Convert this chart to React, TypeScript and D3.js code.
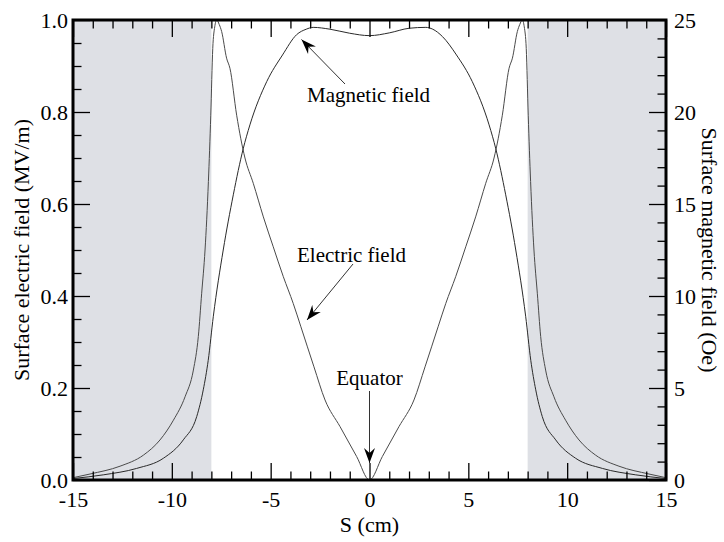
import React, { useEffect, useRef } from 'react'
import * as d3 from 'd3'

const WIDTH = 724
const HEIGHT = 542
const M = { left: 73, top: 20, right: 58, bottom: 62 }

// S (cm) sample points and field values
const S_ELECTRIC = [
  -15, -14.14, -12.62, -11.44, -10.6, -9.92, -9.33, -8.91, -8.66, -8.49, -8.32, -8.15, -8.03, -7.93, -7.83, -7.73,
  -7.6, -7.48, -7.23, -7.06, -6.72, -6.3, -5.88, -5.37, -4.87, -4.36, -3.86, -3.47, -2.81, -2.25, -1.49, -0.65, 0,
  0.65, 1.49, 2.25, 2.81, 3.47, 3.86, 4.36, 4.87, 5.37, 5.88, 6.3, 6.72, 7.06, 7.23, 7.48, 7.6,
  7.73, 7.83, 7.93, 8.03, 8.15, 8.32, 8.49, 8.66, 8.91, 9.33, 9.92, 10.6, 11.44, 12.62, 14.14, 15,
]
const ELECTRIC = [
  0.005, 0.013, 0.03, 0.054, 0.087, 0.13, 0.181, 0.239, 0.312, 0.406, 0.5, 0.649, 0.793, 0.938, 0.985, 1.0,
  0.99, 0.975, 0.917, 0.895, 0.793, 0.7, 0.645, 0.572, 0.507, 0.442, 0.384, 0.333, 0.246, 0.174, 0.116, 0.051, 0,
  0.051, 0.116, 0.174, 0.246, 0.333, 0.384, 0.442, 0.507, 0.572, 0.645, 0.7, 0.793, 0.895, 0.917, 0.975, 0.99,
  1.0, 0.985, 0.938, 0.793, 0.649, 0.5, 0.406, 0.312, 0.239, 0.181, 0.13, 0.087, 0.054, 0.03, 0.013, 0.005,
]

const S_MAGNETIC = [
  -15, -13.47, -11.78, -10.43, -9.42, -8.74, -8.41, -8.16, -7.9, -7.4, -6.89, -6.39, -6.05,
  -5.2, -4.4, -3.69, -3.2, -2.85, -2, -1, 0,
  1, 2, 2.85, 3.2, 3.69, 4.4, 5.2, 6.05, 6.39, 6.89, 7.4, 7.9, 8.16, 8.41, 8.74, 9.42, 10.43, 11.78, 13.47, 15,
]
const MAGNETIC = [
  0.08, 0.28, 0.63, 1.18, 2.18, 3.45, 4.9, 6.5, 8.9, 12.5, 15.5, 18.0, 19.3,
  21.65, 23.1, 24.2, 24.5, 24.6, 24.5, 24.28, 24.15,
  24.3, 24.55, 24.6, 24.5, 24.1, 23.1, 21.65, 19.3, 18.0, 15.5, 12.5, 8.9, 6.5, 4.9, 3.45, 2.18, 1.18, 0.63, 0.28, 0.08,
]

const X_TICKS = [-15, -10, -5, 0, 5, 10, 15]
const LEFT_TICKS = [0, 0.2, 0.4, 0.6, 0.8, 1.0]
const RIGHT_TICKS = [0, 5, 10, 15, 20, 25]
const SHADED = [[-15, -8], [8, 15]]

const FONT = '"Liberation Serif", "Times New Roman", Tinos, "Noto Serif", "DejaVu Serif", FreeSerif, Times, serif'

export default function App() {
  const ref = useRef<SVGSVGElement>(null)

  useEffect(() => {
    const svg = d3.select(ref.current)
    svg.selectAll('*').remove()

    const w = WIDTH - M.left - M.right
    const h = HEIGHT - M.top - M.bottom

    const x = d3.scaleLinear().domain([-15, 15]).range([0, w])
    const yL = d3.scaleLinear().domain([0, 1]).range([h, 0])
    const yR = d3.scaleLinear().domain([0, 25]).range([h, 0])

    const defs = svg.append('defs')
    defs.append('marker')
      .attr('id', 'head')
      .attr('viewBox', '-15 -6 15 12')
      .attr('refX', 0)
      .attr('refY', 0)
      .attr('markerWidth', 15)
      .attr('markerHeight', 12)
      .attr('markerUnits', 'userSpaceOnUse')
      .attr('orient', 'auto')
      .append('path')
      .attr('d', 'M0,0 L-15,-5.5 L-10,0 L-15,5.5 Z')
      .attr('fill', '#000')

    const g = svg.append('g')
      .attr('transform', `translate(${M.left},${M.top})`)
      .attr('font-family', FONT)

    g.selectAll('rect.shade')
      .data(SHADED)
      .enter()
      .append('rect')
      .attr('class', 'shade')
      .attr('x', (d) => x(d[0]))
      .attr('y', 0)
      .attr('width', (d) => x(d[1]) - x(d[0]))
      .attr('height', h)
      .attr('fill', '#dee0e5')

    const eLine = d3.line<number>()
      .x((d, i) => x(S_ELECTRIC[i]))
      .y((d) => yL(d))
      .curve(d3.curveMonotoneX)
    const bLine = d3.line<number>()
      .x((d, i) => x(S_MAGNETIC[i]))
      .y((d) => yR(d))
      .curve(d3.curveMonotoneX)

    g.append('path').attr('d', eLine(ELECTRIC))
      .attr('fill', 'none').attr('stroke', '#4a4a4a').attr('stroke-width', 1)
    g.append('path').attr('d', bLine(MAGNETIC))
      .attr('fill', 'none').attr('stroke', '#2a2a2a').attr('stroke-width', 1)

    const styleAxis = (sel) => {
      sel.select('.domain').remove()
      sel.selectAll('line').attr('stroke', '#000').attr('stroke-width', 1.3)
      sel.selectAll('text').attr('fill', '#000')
      sel.attr('font-family', FONT).attr('font-size', 22)
    }

    const minorX = d3.range(-15, 16, 1).filter((v) => v % 5 !== 0)
    const minorL = d3.range(0, 1.0001, 0.05).filter((v) => Math.abs(v * 5 - Math.round(v * 5)) > 1e-6)
    const minorR = d3.range(0, 26, 1).filter((v) => v % 5 !== 0)
    const plain = (d) => String(d)

    g.append('g').attr('transform', `translate(0,${h})`)
      .call(d3.axisBottom(x).tickValues(X_TICKS).tickSize(-17).tickSizeOuter(0).tickPadding(11).tickFormat(plain))
      .call(styleAxis)
    g.append('g').attr('transform', `translate(0,${h})`)
      .call(d3.axisBottom(x).tickValues(minorX).tickSize(-8.5).tickSizeOuter(0).tickFormat(() => ''))
      .call(styleAxis)
    g.append('g')
      .call(d3.axisTop(x).tickValues(X_TICKS).tickSize(-17).tickSizeOuter(0).tickFormat(() => ''))
      .call(styleAxis)
    g.append('g')
      .call(d3.axisTop(x).tickValues(minorX).tickSize(-8.5).tickSizeOuter(0).tickFormat(() => ''))
      .call(styleAxis)
    g.append('g')
      .call(d3.axisLeft(yL).tickValues(LEFT_TICKS).tickSize(-17).tickSizeOuter(0).tickPadding(5).tickFormat(d3.format('.1f')))
      .call(styleAxis)
    g.append('g')
      .call(d3.axisLeft(yL).tickValues(minorL).tickSize(-8.5).tickSizeOuter(0).tickFormat(() => ''))
      .call(styleAxis)
    g.append('g').attr('transform', `translate(${w},0)`)
      .call(d3.axisRight(yR).tickValues(RIGHT_TICKS).tickSize(-17).tickSizeOuter(0).tickPadding(8).tickFormat(plain))
      .call(styleAxis)
    g.append('g').attr('transform', `translate(${w},0)`)
      .call(d3.axisRight(yR).tickValues(minorR).tickSize(-8.5).tickSizeOuter(0).tickFormat(() => ''))
      .call(styleAxis)

    g.append('rect')
      .attr('width', w)
      .attr('height', h)
      .attr('fill', 'none')
      .attr('stroke', '#000')
      .attr('stroke-width', 3)

    // axis titles
    g.append('text')
      .attr('transform', `translate(${-44},${h / 2}) rotate(-90)`)
      .attr('text-anchor', 'middle')
      .attr('font-size', 22)
      .text('Surface electric field (MV/m)')
    g.append('text')
      .attr('transform', `translate(${w + 36},${h / 2}) rotate(90)`)
      .attr('text-anchor', 'middle')
      .attr('font-size', 22)
      .text('Surface magnetic field (Oe)')
    g.append('text')
      .attr('x', w / 2)
      .attr('y', h + 52)
      .attr('text-anchor', 'middle')
      .attr('font-size', 22)
      .text('S (cm)')

    // annotations
    const notes = [
      { label: 'Magnetic field', tx: 234, ty: 82, anchor: 'start', from: [272, 64], to: [228.5, 19.5] },
      { label: 'Electric field', tx: 224, ty: 242, anchor: 'start', from: [280, 244], to: [234, 300] },
      { label: 'Equator', tx: 296.5, ty: 365, anchor: 'middle', from: [296.5, 371], to: [296.5, 443] },
    ]
    notes.forEach((n) => {
      g.append('text')
        .attr('x', n.tx).attr('y', n.ty)
        .attr('text-anchor', n.anchor)
        .attr('font-size', 21)
        .text(n.label)
      g.append('line')
        .attr('x1', n.from[0]).attr('y1', n.from[1])
        .attr('x2', n.to[0]).attr('y2', n.to[1])
        .attr('stroke', '#333').attr('stroke-width', 1)
        .attr('marker-end', 'url(#head)')
    })
  }, [])

  return (
    <svg
      ref={ref}
      width={WIDTH}
      height={HEIGHT}
      style={{ position: 'absolute', left: 0, top: 0, background: '#fff' }}
    />
  )
}
